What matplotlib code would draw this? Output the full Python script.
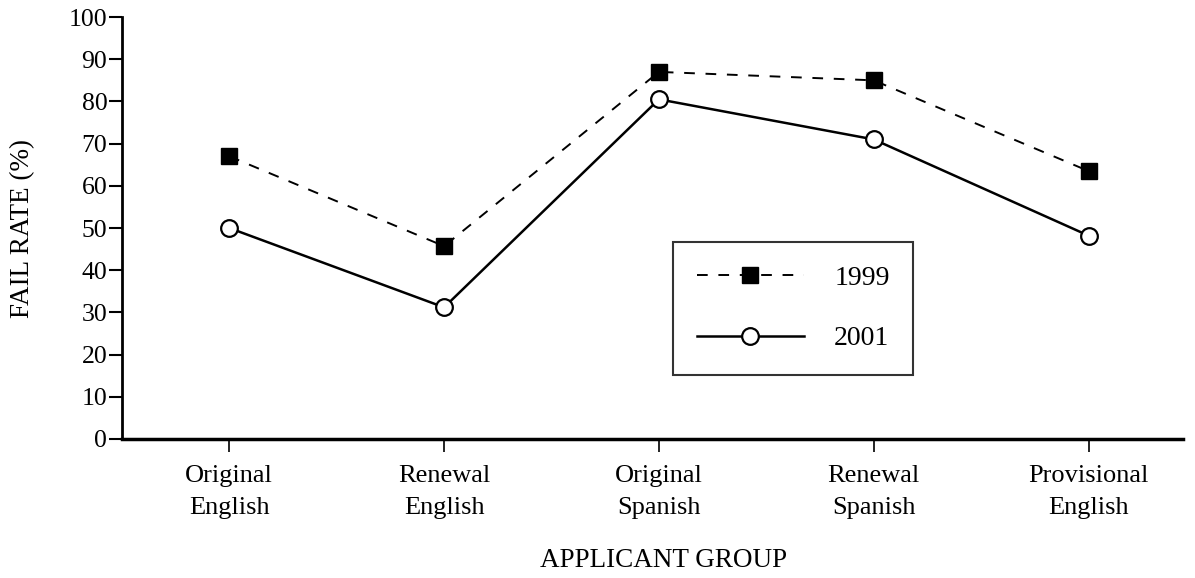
import matplotlib.pyplot as plt

plt.rcParams['font.family'] = ['Liberation Serif', 'DejaVu Serif']

groups = ["Original\nEnglish", "Renewal\nEnglish", "Original\nSpanish", "Renewal\nSpanish", "Provisional\nEnglish"]
fail_1999 = [67, 45.7, 87, 85, 63.5]
fail_2001 = [50, 31.2, 80.5, 71, 48.2]

fig = plt.figure(figsize=(11.95, 5.78), dpi=100)
ax = fig.add_axes([0.102, 0.2405, 0.888, 0.730])

x = range(len(groups))
ax.plot(x, fail_1999, color="black", linestyle=(0, (5.5, 5.5)), linewidth=1.4,
        marker="s", markersize=12, markerfacecolor="black", label="1999")
ax.plot(x, fail_2001, color="black", linestyle="-", linewidth=1.8,
        marker="o", markersize=12, markerfacecolor="white", markeredgewidth=1.6, label="2001")

ax.set_xlim(-0.5, 4.44)
ax.set_ylim(0, 100)
ax.set_yticks(range(0, 101, 10))
ax.set_xticks(list(x))
ax.set_xticklabels(groups, fontsize=19, linespacing=1.6)
ax.tick_params(axis="y", labelsize=18.5, length=9.5, width=1.5, direction="out", pad=1)
ax.tick_params(axis="x", length=9.5, width=1.2, direction="out", pad=9)

ax.spines["top"].set_visible(False)
ax.spines["right"].set_visible(False)
ax.spines["left"].set_linewidth(2)
ax.spines["bottom"].set_linewidth(2.5)

ax.set_ylabel("FAIL RATE (%)", fontsize=19.5)
ax.yaxis.set_label_coords(-0.094, 0.5)
ax.yaxis.label.set_va("center")
ax.set_xlabel("APPLICANT GROUP", fontsize=19.5)
ax.xaxis.set_label_coords(0.51, -0.287)
ax.xaxis.label.set_va("center")

leg = ax.legend(loc="upper left", bbox_to_anchor=(673 / 1195, 1 - 242 / 578),
                bbox_transform=fig.transFigure, frameon=True, fancybox=False,
                fontsize=20, handlelength=3.85, handletextpad=1.1,
                labelspacing=1.25, borderpad=0.85, borderaxespad=0)
leg.get_frame().set_edgecolor("black")
leg.get_frame().set_linewidth(1.5)

fig.savefig("out.png", dpi=100)
